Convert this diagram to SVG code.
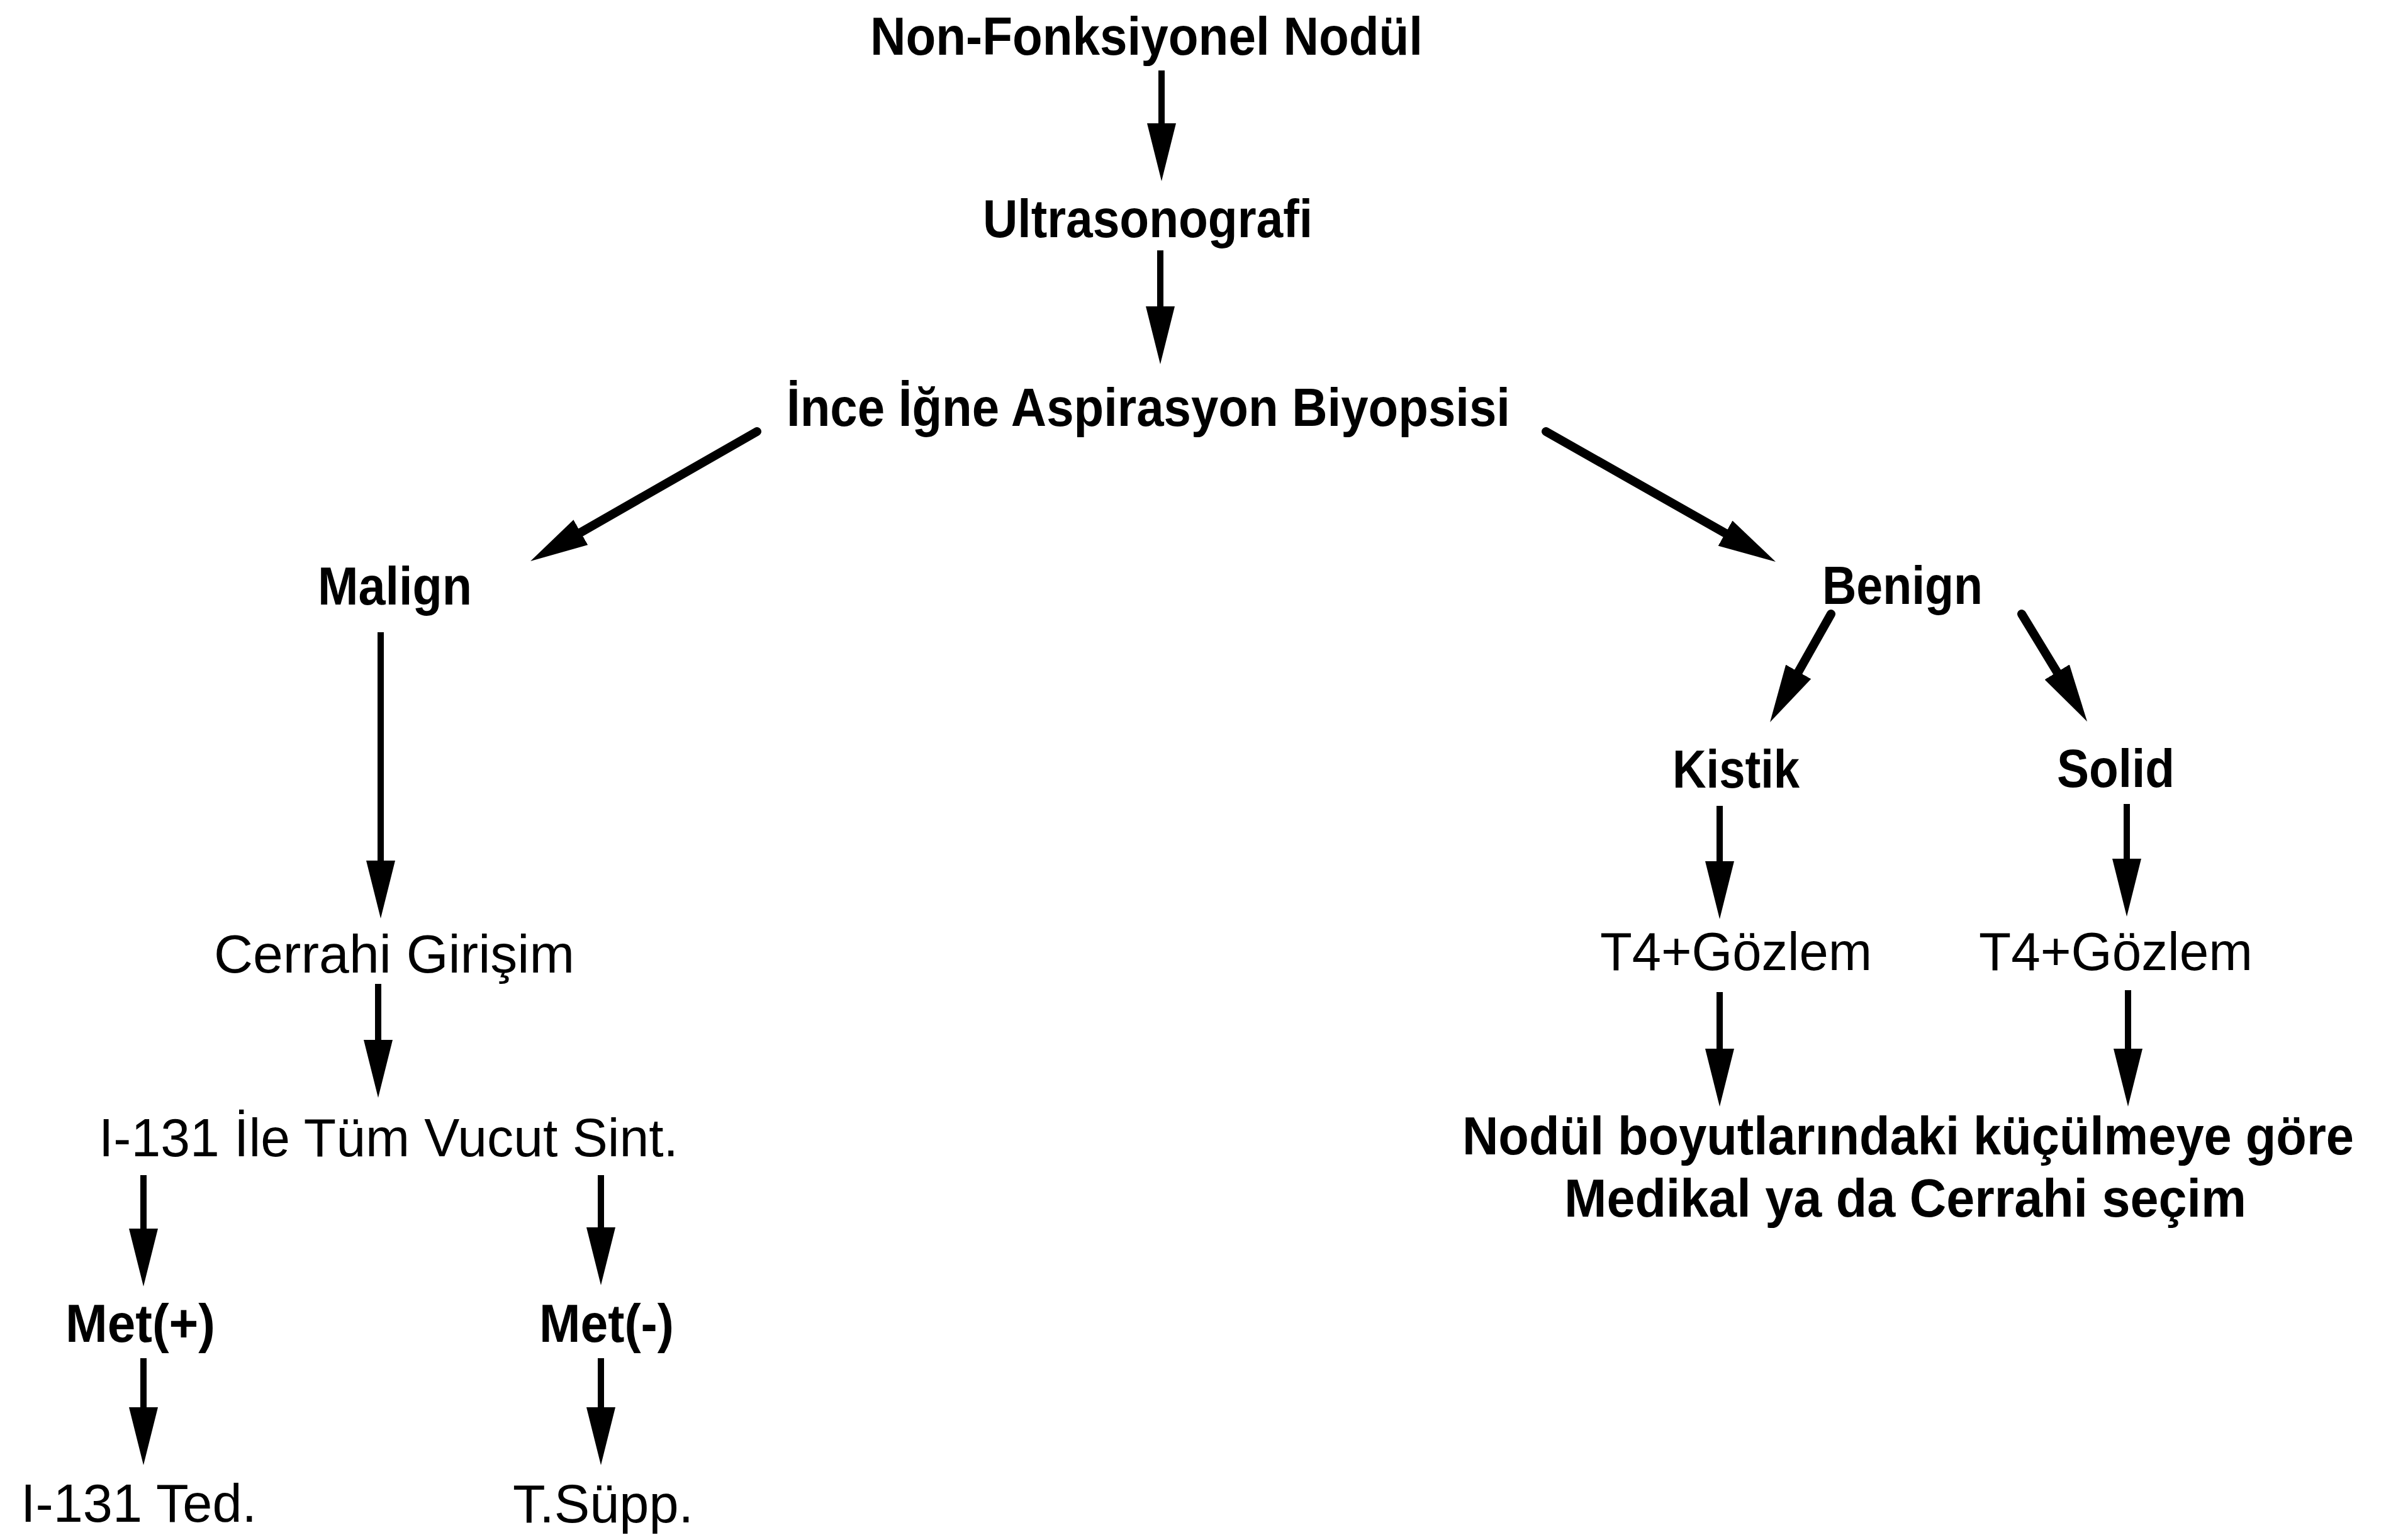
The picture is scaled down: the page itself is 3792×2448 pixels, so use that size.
<svg xmlns="http://www.w3.org/2000/svg" width="3792" height="2448" viewBox="0 0 3792 2448">
<style>
text { font-family: "Liberation Sans", Arial, sans-serif; font-size: 85px; fill: #000; }
.b { font-weight: bold; }
.r { font-weight: normal; }
.v { stroke: #000; stroke-width: 10; fill: none; marker-end: url(#ah); }
.d { stroke: #000; stroke-width: 14; stroke-linecap: round; fill: none; marker-end: url(#ah); }
</style>
<defs>
<marker id="ah" markerUnits="userSpaceOnUse" viewBox="0 0 92 46" refX="0" refY="23" markerWidth="92" markerHeight="46" orient="auto">
<path d="M0,0 L92,23 L0,46 Z" fill="#000"/>
</marker>
</defs>
<rect width="3792" height="2448" fill="#fff"/>
<g id="connectors">
<line class="v" x1="1846" y1="112" x2="1846" y2="196"/>
<line class="v" x1="1844" y1="398" x2="1844" y2="487"/>
<line class="d" x1="1203" y1="686" x2="922.9" y2="846.3"/>
<line class="d" x1="2457" y1="686" x2="2742" y2="847.6"/>
<line class="v" x1="605" y1="1005" x2="605" y2="1368"/>
<line class="v" x1="601" y1="1564" x2="601" y2="1653"/>
<line class="v" x1="228" y1="1868" x2="228" y2="1953"/>
<line class="v" x1="955" y1="1868" x2="955" y2="1951"/>
<line class="v" x1="228" y1="2159" x2="228" y2="2237"/>
<line class="v" x1="955" y1="2159" x2="955" y2="2237"/>
<line class="d" x1="2910" y1="976" x2="2858.2" y2="1067.9"/>
<line class="d" x1="3213" y1="976" x2="3269.2" y2="1068.3"/>
<line class="v" x1="2733" y1="1281" x2="2733" y2="1369"/>
<line class="v" x1="3380" y1="1278" x2="3380" y2="1365"/>
<line class="v" x1="2733" y1="1577" x2="2733" y2="1667"/>
<line class="v" x1="3382" y1="1574" x2="3382" y2="1667"/>
</g>
<g id="n-nonfonksiyonel"><text class="b" x="1383" y="87" textLength="878" lengthAdjust="spacingAndGlyphs">Non-Fonksiyonel Nodül</text></g>
<g id="n-ultrasonografi"><text class="b" x="1562" y="377" textLength="524" lengthAdjust="spacingAndGlyphs">Ultrasonografi</text></g>
<g id="n-iiab"><text class="b" x="1250" y="677" textLength="1150" lengthAdjust="spacingAndGlyphs">İnce İğne Aspirasyon Biyopsisi</text></g>
<g id="n-malign"><text class="b" x="505" y="961" textLength="245" lengthAdjust="spacingAndGlyphs">Malign</text></g>
<g id="n-benign"><text class="b" x="2896" y="960" textLength="255" lengthAdjust="spacingAndGlyphs">Benign</text></g>
<g id="n-cerrahi"><text class="r" x="340" y="1546" textLength="573" lengthAdjust="spacingAndGlyphs">Cerrahi Girişim</text></g>
<g id="n-i131sint"><text class="r" x="157" y="1838" textLength="921" lengthAdjust="spacingAndGlyphs">I-131 İle Tüm Vucut Sint.</text></g>
<g id="n-metpos"><text class="b" x="104" y="2133" textLength="238" lengthAdjust="spacingAndGlyphs">Met(+)</text></g>
<g id="n-metneg"><text class="b" x="857" y="2133" textLength="214" lengthAdjust="spacingAndGlyphs">Met(-)</text></g>
<g id="n-i131ted"><text class="r" x="33" y="2419" textLength="375" lengthAdjust="spacingAndGlyphs">I-131 Ted.</text></g>
<g id="n-tsupp"><text class="r" x="815" y="2420" textLength="287" lengthAdjust="spacingAndGlyphs">T.Süpp.</text></g>
<g id="n-kistik"><text class="b" x="2658" y="1252" textLength="202" lengthAdjust="spacingAndGlyphs">Kistik</text></g>
<g id="n-solid"><text class="b" x="3269" y="1251" textLength="187" lengthAdjust="spacingAndGlyphs">Solid</text></g>
<g id="n-t4-1"><text class="r" x="2543" y="1542" textLength="432" lengthAdjust="spacingAndGlyphs">T4+Gözlem</text></g>
<g id="n-t4-2"><text class="r" x="3145" y="1542" textLength="435" lengthAdjust="spacingAndGlyphs">T4+Gözlem</text></g>
<g id="n-secim">
<text class="b" x="2324" y="1835" textLength="1417" lengthAdjust="spacingAndGlyphs">Nodül boyutlarındaki küçülmeye göre</text>
<text class="b" x="2486" y="1934" textLength="1084" lengthAdjust="spacingAndGlyphs">Medikal ya da Cerrahi seçim</text>
</g>
</svg>
